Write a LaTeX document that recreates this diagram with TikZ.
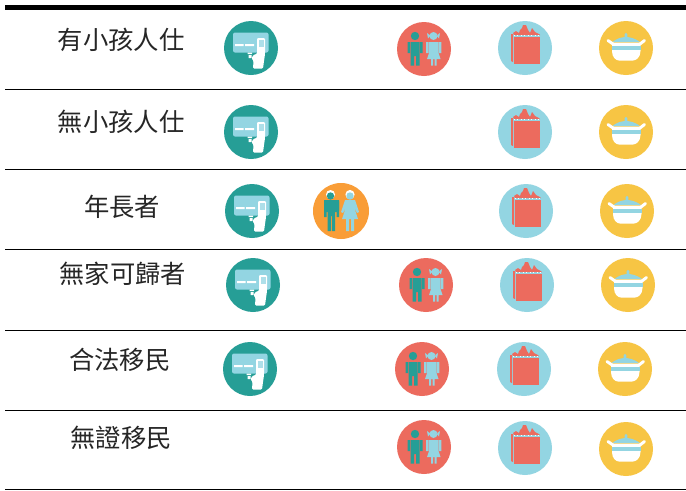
\documentclass[tikz,border=0pt]{standalone}
\usepackage{fontspec}
\newfontfamily\cjk{Noto Sans CJK TC}
\definecolor{teal1}{HTML}{269E96}
\definecolor{sky1}{HTML}{93D5E2}
\definecolor{coral1}{HTML}{EC6B5E}
\definecolor{amber1}{HTML}{F7C544}
\definecolor{orange1}{HTML}{F99D37}
\tikzset{
  x=0.75pt,y=-0.75pt,
  rowlabel/.style={font=\cjk\fontsize{19pt}{21pt}\selectfont,text=black!85,inner sep=0pt,anchor=center},
  rule/.style={draw=black,line width=0.75pt},
  toprule/.style={draw=black,line width=3.6pt},
  pics/cardicon/.style={code={
    \fill[teal1] (0,0) circle (27);
    \fill[sky1,rounded corners=1.5] (-18,-15.5) rectangle (17.5,4.5);
    \fill[white] (-16,-3.8) rectangle (-7.5,-1.8) (-6,-3.8) rectangle (3,-1.8);
    \fill[white] (-3.5,4.5) rectangle (1,6) (-2.5,7) rectangle (0.5,10);
    \fill[white,rounded corners=0.8] (6,-10) -- (14,-10) -- (14,6) -- (13,13) -- (12,20.5) -- (2,20.5) -- (2.5,13) -- (0.5,10) -- (3,6.5) -- (6,6) -- cycle;
    \fill[sky1!75!white] (7.5,-8.5) rectangle (12.5,-1.5);
  }},
  pics/kidsicon/.style={code={
    \fill[coral1] (0,0) circle (27);
    \fill[teal1] (-9,-13) circle (4.2);
    \fill[teal1] (-16.5,-7) rectangle (-14,4) (-4,-7) rectangle (-1.5,4);
    \fill[teal1] (-13.5,-7) -- (-4.5,-7) -- (-4.5,16.5) -- (-8,16.5) -- (-8,7) -- (-10,7) -- (-10,16.5) -- (-13.5,16.5) -- cycle;
    \fill[sky1] (9.5,-13) circle (4) (3,-16) -- (6.5,-13.5) -- (4,-10.5) -- cycle (16,-16) -- (12.5,-13.5) -- (15,-10.5) -- cycle;
    \fill[sky1] (2,-7) rectangle (4.6,4) (14.8,-7) rectangle (17.3,4);
    \fill[sky1] (5,-7) -- (14.5,-7) -- (14.5,4) -- (16.5,10) -- (12.5,10) -- (12.5,16.5) -- (10.5,16.5) -- (10.5,10) -- (9,10) -- (9,16.5) -- (7,16.5) -- (7,10) -- (3,10) -- (5,4) -- cycle;
  }},
  pics/eldersicon/.style={code={
    \fill[orange1] (0,0) circle (28);
    \fill[white] (-10.5,-16.5) circle (4.5);
    \fill[teal1] (-10.5,-15) circle (3.7);
    \fill[teal1,rounded corners=1] (-17,-11) rectangle (-2,1);
    \fill[teal1] (-17,-11) rectangle (-14.5,6) (-4.5,-11) rectangle (-2,6);
    \fill[teal1] (-13.5,-2) -- (-6,-2) -- (-6,20) -- (-9,20) -- (-9,5) -- (-10,5) -- (-10,20) -- (-13.5,20) -- cycle;
    \fill[white] (9,-16.5) circle (4.6);
    \fill[sky1] (9,-15) circle (3.7);
    \fill[sky1] (4,-11) -- (14,-11) -- (18,1) -- (16,2) -- (13,-4) -- (17,8) -- (13,8) -- (13,20) -- (10,20) -- (10,8) -- (8,8) -- (8,20) -- (5,20) -- (5,8) -- (1,8) -- (5,-4) -- (2,2) -- (0,1) -- cycle;
  }},
  pics/bagicon/.style={code={
    \fill[sky1] (0,0) circle (27);
    \fill[coral1] (-14,-14) -- (-12,-14) -- (-12,14) -- (-14,13) -- cycle;
    \fill[coral1] (-11,-11.5) rectangle (15,16);
    \fill[coral1] (-12,-15) -- (-9,-17) -- (-6,-15) -- (-5,-18) -- (-3,-20) -- (-2,-23) -- (1,-23) -- (3,-18) -- (5,-15) -- (7,-20) -- (10,-16) -- (14,-14) -- (15,-13) -- (-11,-13) -- cycle;
    \draw[white,line width=0.6pt,dotted] (-11,-12.6) -- (15,-12.6);
  }},
  pics/poticon/.style={code={
    \fill[amber1] (0,0) circle (27);
    \fill[sky1,rounded corners=0.8] (-1.3,-15) rectangle (1.3,-9);
    \fill[sky1] (-13.5,-6) .. controls (-10,-9) and (-5,-11) .. (0,-11) .. controls (5,-11) and (10,-9) .. (14,-6) -- cycle;
    \draw[white,line width=2.2pt,line cap=round] (-18,-7.5) -- (-13,-4) (18.5,-7.5) -- (14,-4);
    \fill[white] (-14,-5.5) -- (14.5,-5.5) -- (14.5,3) .. controls (14.5,9.5) and (10,12.5) .. (7,12.5) -- (-7,12.5) .. controls (-10,12.5) and (-14,9.5) .. (-14,3) -- cycle;
    \fill[sky1] (-14,-2) rectangle (14.5,2);
  }},
}
\begin{document}
\begin{tikzpicture}
\useasboundingbox (0,0) rectangle (686,490);
\fill[white] (0,0) rectangle (686,490);
\draw[toprule] (5,7.5) -- (686,7.5);
\foreach \yy in {89,169,249,330,410,489} \draw[rule] (5,\yy) -- (686,\yy);
\node[rowlabel] (r1) at (121,40) {\cjk 有小孩人仕};
\node[rowlabel] (r2) at (121,122) {\cjk 無小孩人仕};
\node[rowlabel] (r3) at (122,207) {\cjk 年長者};
\node[rowlabel] (r4) at (123,274) {\cjk 無家可歸者};
\node[rowlabel] (r5) at (120,360) {\cjk 合法移民};
\node[rowlabel] (r6) at (121,438) {\cjk 無證移民};
\pic at (251,48) {cardicon};
\pic at (424,49) {kidsicon};
\pic at (525,48) {bagicon};
\pic at (626,48) {poticon};
\pic at (251,132) {cardicon};
\pic at (525,132) {bagicon};
\pic at (626,132) {poticon};
\pic at (252,211) {cardicon};
\pic at (341,211) {eldersicon};
\pic at (526,211) {bagicon};
\pic at (627,211) {poticon};
\pic at (253,285) {cardicon};
\pic at (426,285) {kidsicon};
\pic at (527,285) {bagicon};
\pic at (628,285) {poticon};
\pic at (250,369) {cardicon};
\pic at (422,369) {kidsicon};
\pic at (524,369) {bagicon};
\pic at (625,369) {poticon};
\pic at (424,447) {kidsicon};
\pic at (525,448) {bagicon};
\pic at (626,449) {poticon};
\end{tikzpicture}
\end{document}
